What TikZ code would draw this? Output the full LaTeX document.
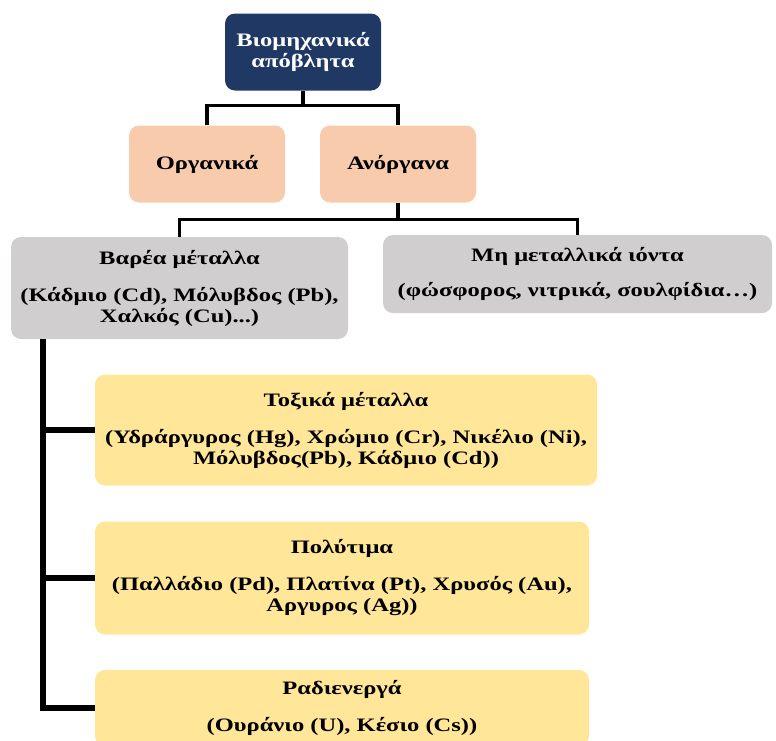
\documentclass[tikz,border=0pt]{standalone}
\usepackage{fontspec}
\setmainfont[FakeStretch=1.29]{Liberation Serif}
\usetikzlibrary{calc}

\definecolor{navybox}{HTML}{1F3864}
\definecolor{peachbox}{HTML}{F8CBAD}
\definecolor{greybox}{HTML}{D0CECE}
\definecolor{yellowbox}{HTML}{FFE699}

\tikzset{
  box/.style={rectangle, rounded corners=10pt, inner sep=0pt, align=center,
    font=\fontsize{19}{21}\selectfont\bfseries},
  link/.style={line width=3.5pt},
  trunklink/.style={line width=6.5pt}
}

\begin{document}
\begin{tikzpicture}[x=1pt, y=-1pt]

% Fix the page size
\useasboundingbox (0,0) rectangle (776,740);

% Draw the top box
\node[box, fill=navybox, text=white, minimum width=156pt, minimum height=77pt] (Top) at (303,52) {Βιομηχανικά\\απόβλητα};

% Draw the second level
\node[box, fill=peachbox, minimum width=156pt, minimum height=77pt] (Organic) at (207,164) {Οργανικά};
\node[box, fill=peachbox, minimum width=156pt, minimum height=77pt] (Inorganic) at (398,164) {Ανόργανα};

% Draw the third level
\node[box, fill=greybox, minimum width=337pt, minimum height=102pt] (Heavy) at (179.5,288)
  {Βαρέα μέταλλα\\[16pt](Κάδμιο (Cd), Μόλυβδος (Pb),\\Χαλκός (Cu)...)};
\node[box, fill=greybox, minimum width=389pt, minimum height=78pt] (NonMetal) at (577.5,274)
  {Μη μεταλλικά ιόντα\\[14pt](φώσφορος, νιτρικά, σουλφίδια…)};

% Draw the groups of heavy metals
\node[box, fill=yellowbox, minimum width=502pt, minimum height=111pt] (Toxic) at (346,430)
  {Τοξικά μέταλλα\\[16pt](Υδράργυρος (Hg), Χρώμιο (Cr), Νικέλιο (Ni),\\Μόλυβδος(Pb), Κάδμιο (Cd))};
\node[box, fill=yellowbox, minimum width=494pt, minimum height=113pt] (Precious) at (342,578)
  {Πολύτιμα\\[16pt](Παλλάδιο (Pd), Πλατίνα (Pt), Χρυσός (Au),\\Αργυρος (Ag))};
\node[box, fill=yellowbox, minimum width=494pt, minimum height=76pt] (Radio) at (342,708)
  {Ραδιενεργά\\[16pt](Ουράνιο (U), Κέσιο (Cs))};

% Connect the top box to the second level
\draw[link] (Top.south) -- ++(0,15) coordinate (JoinTop);
\draw[link] (Organic.north) |- (JoinTop) -| (Inorganic.north);

% Connect the inorganic box to the third level
\draw[link] (Inorganic.south) -- ++(0,17) coordinate (JoinMid);
\draw[link] (Heavy.north) |- (JoinMid) -| (NonMetal.north);

% Draw the trunk below the heavy metals
\coordinate (Trunk) at ([xshift=32pt]Heavy.south west);
\draw[trunklink] (Trunk) |- (Radio.west);
\draw[trunklink] (Trunk |- Toxic.west) -- (Toxic.west);
\draw[trunklink] (Trunk |- Precious.west) -- (Precious.west);

\end{tikzpicture}
\end{document}
